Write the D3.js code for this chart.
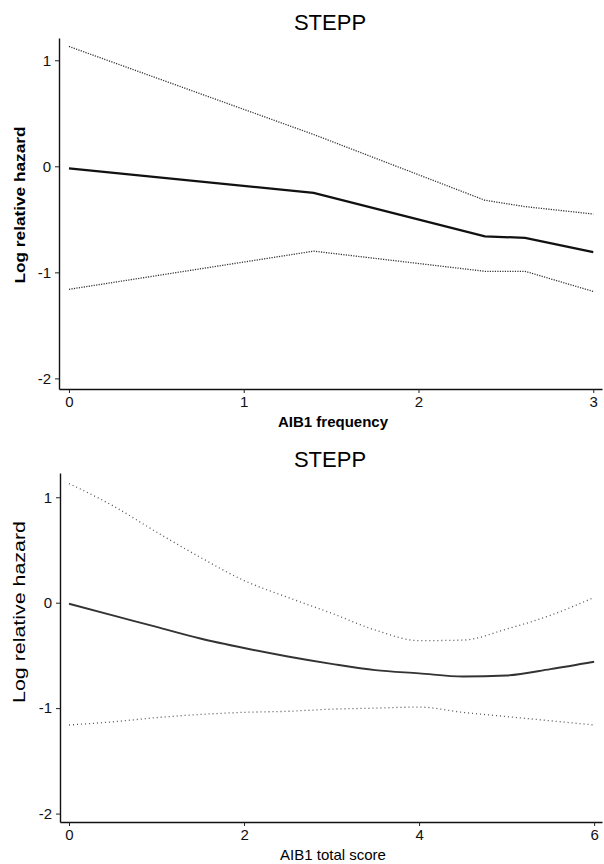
<!DOCTYPE html>
<html>
<head>
<meta charset="utf-8">
<script src="https://cdn.jsdelivr.net/npm/d3@7"></script>
<style>
  body { margin: 0; background: #fff; }
  svg { font-family: "Liberation Sans", Arial, sans-serif; }
</style>
</head>
<body>
<div id="chart"></div>
<script>
// AIB1 frequency panel (top)
const freqX     = [0, 1.4, 2.38, 2.61, 3];
const freqEst   = [-0.02, -0.25, -0.66, -0.675, -0.81];
const freqUpper = [1.13, 0.30, -0.32, -0.38, -0.45];
const freqLower = [-1.16, -0.80, -0.99, -0.99, -1.18];
const freqTicks = [0, 1, 2, 3];

// AIB1 total score panel (bottom)
const scoreX     = [0, 0.5, 1, 1.5, 2, 2.5, 3, 3.5, 4, 4.5, 5, 5.5, 6];
const scoreEst   = [-0.01, -0.12, -0.23, -0.34, -0.43, -0.51, -0.58, -0.64, -0.67, -0.70, -0.69, -0.63, -0.56];
const scoreUpper = [1.13, 0.92, 0.67, 0.43, 0.21, 0.05, -0.10, -0.26, -0.36, -0.355, -0.25, -0.12, 0.05];
const scoreLower = [-1.16, -1.13, -1.09, -1.06, -1.04, -1.03, -1.01, -1.00, -0.99, -1.04, -1.08, -1.12, -1.16];
const scoreTicks = [0, 2, 4, 6];

const hazardTicks = [-2, -1, 0, 1];

const svg = d3.select("#chart")
    .append("svg")
    .attr("width", 604)
    .attr("height", 864);

function drawPanel(opt) {
    const x = d3.scaleLinear().domain(opt.xDomain).range([opt.left, opt.right]);
    const y = d3.scaleLinear().domain(opt.yDomain).range([opt.bottom, opt.top]);

    const g = svg.append("g");

    // title
    g.append("text")
        .attr("x", 330)
        .attr("y", opt.titleY)
        .attr("text-anchor", "middle")
        .style("font-size", "22px")
        .text("STEPP");

    // axes
    const xAxis = g.append("g")
        .attr("transform", `translate(0,${opt.bottom})`)
        .call(d3.axisBottom(x).tickValues(opt.xTicks).tickSize(4).tickSizeOuter(0).tickPadding(3)
            .tickFormat(d3.format("d")));
    const yAxis = g.append("g")
        .attr("transform", `translate(${opt.left},0)`)
        .call(d3.axisLeft(y).tickValues(hazardTicks).tickSize(4).tickSizeOuter(0).tickPadding(4)
            .tickFormat(d => d < 0 ? "-" + Math.abs(d) : d));

    [xAxis, yAxis].forEach(a => {
        a.select(".domain").attr("stroke", "#111").attr("stroke-width", 1.4);
        a.selectAll(".tick line").attr("stroke", "#222");
        a.selectAll("text")
            .style("font-size", "15px")
            .style("font-family", "Liberation Sans, Arial, sans-serif")
            .attr("fill", "#111");
    });

    // axis titles
    g.append("text")
        .attr("x", 333)
        .attr("y", opt.xTitleY)
        .attr("text-anchor", "middle")
        .style("font-size", "15px")
        .style("font-weight", opt.bold ? "bold" : "normal")
        .text(opt.xTitle);

    g.append("text")
        .attr("transform", `translate(25,${opt.yTitleMid}) rotate(-90)`)
        .attr("text-anchor", "middle")
        .attr("textLength", opt.yTitleLen)
        .attr("lengthAdjust", "spacingAndGlyphs")
        .style("font-size", opt.yTitleSize)
        .style("font-weight", opt.bold ? "bold" : "normal")
        .text("Log relative hazard");

    const line = d3.line()
        .x((d, i) => x(opt.xs[i]))
        .y(d => y(d))
        .curve(opt.curve);

    [opt.upper, opt.lower].forEach(s => {
        g.append("path")
            .datum(s)
            .attr("fill", "none")
            .attr("stroke", opt.ciColor)
            .attr("stroke-width", 1.3)
            .attr("stroke-dasharray", opt.dash)
            .attr("d", line);
    });

    g.append("path")
        .datum(opt.est)
        .attr("fill", "none")
        .attr("stroke", opt.estColor)
        .attr("stroke-width", opt.estWidth)
        .attr("d", line);
}

drawPanel({
    xs: freqX, est: freqEst, upper: freqUpper, lower: freqLower,
    xTicks: freqTicks, xDomain: [-0.057, 3.05], yDomain: [-2.1, 1.21],
    left: 59, right: 602, top: 38, bottom: 389,
    titleY: 30, xTitleY: 427, xTitle: "AIB1 frequency",
    yTitleMid: 205, yTitleLen: 157, yTitleSize: "15px", bold: true,
    curve: d3.curveLinear, ciColor: "#333", dash: "1.2,1.3",
    estColor: "#111", estWidth: 2.3
});

drawPanel({
    xs: scoreX, est: scoreEst, upper: scoreUpper, lower: scoreLower,
    xTicks: scoreTicks, xDomain: [-0.103, 6.09], yDomain: [-2.08, 1.23],
    left: 60, right: 602, top: 473, bottom: 822,
    titleY: 467, xTitleY: 860, xTitle: "AIB1 total score",
    yTitleMid: 612, yTitleLen: 182, yTitleSize: "17px", bold: false,
    curve: d3.curveMonotoneX, ciColor: "#555", dash: "1,3",
    estColor: "#333", estWidth: 1.9
});
</script>
</body>
</html>
